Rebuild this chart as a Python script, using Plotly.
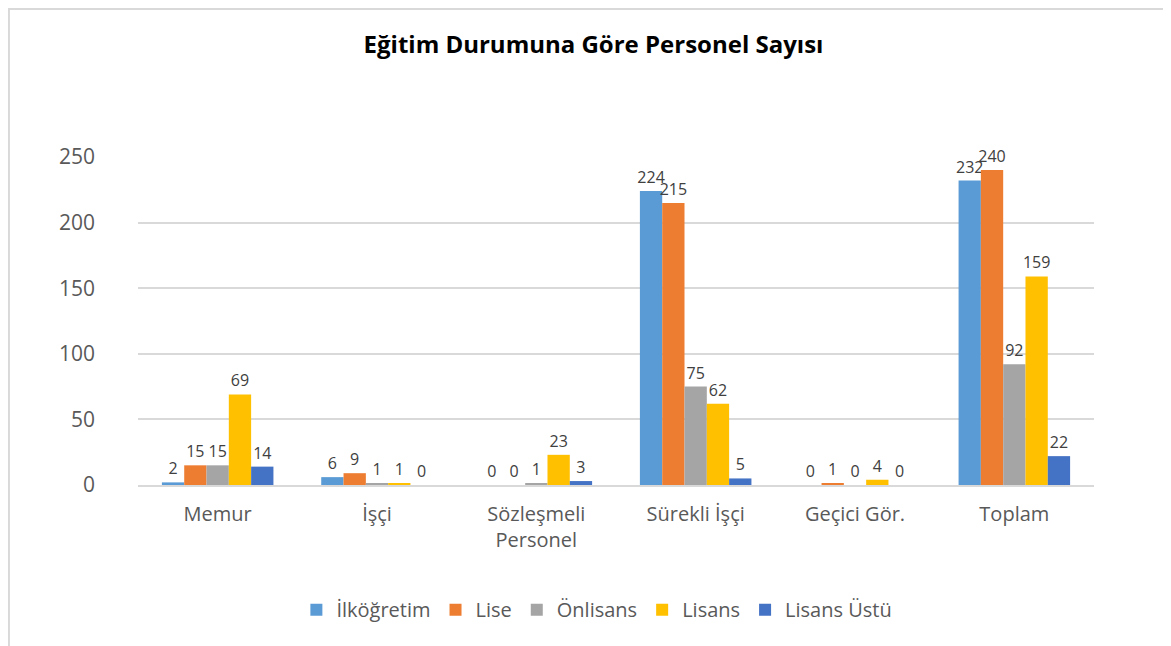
import plotly.graph_objects as go

categories = ["Memur", "İşçi", "Sözleşmeli<br>Personel", "Sürekli İşçi", "Geçici Gör.", "Toplam"]
series_names = ["İlköğretim", "Lise", "Önlisans", "Lisans", "Lisans Üstü"]
ilkogretim = [2, 6, 0, 224, 0, 232]
lise = [15, 9, 0, 215, 1, 240]
onlisans = [15, 1, 1, 75, 0, 92]
lisans = [69, 1, 23, 62, 4, 159]
lisans_ustu = [14, 0, 3, 5, 0, 22]
series_values = [ilkogretim, lise, onlisans, lisans, lisans_ustu]
colors = ["#5B9BD5", "#ED7D31", "#A5A5A5", "#FFC000", "#4472C4"]
y_ticks = [0, 50, 100, 150, 200, 250]

FONT = "Open Sans, Noto Sans, sans-serif"

fig = go.Figure()
for name, vals, col in zip(series_names, series_values, colors):
    fig.add_trace(go.Bar(
        name=name, x=categories, y=vals,
        marker=dict(color=col, line=dict(width=0)),
        text=[str(v) for v in vals], textposition="outside",
        constraintext="none",
        textfont=dict(size=16, color="#404040", family=FONT),
        cliponaxis=False,
    ))

fig.update_layout(
    width=1171, height=646,
    paper_bgcolor="white", plot_bgcolor="white",
    barmode="group", bargap=0.3, bargroupgap=0,
    margin=dict(l=130, r=85, t=149, b=169),
    title=dict(text="<b>Eğitim Durumuna Göre Personel Sayısı</b>",
               x=0.5, xanchor="center", y=0.943, yanchor="middle",
               font=dict(size=24, color="#000000", family=FONT)),
    font=dict(family=FONT, color="#595959"),
    legend=dict(orientation="h", x=0.48, xanchor="center", y=-0.38, yanchor="middle",
                font=dict(size=20, color="#595959", family=FONT),
                itemsizing="constant", traceorder="normal", itemwidth=30),
    xaxis=dict(showgrid=False, showline=True, linecolor="#d9d9d9", linewidth=2,
               tickfont=dict(size=20, color="#595959", family=FONT), ticks="",
               ticklabelstandoff=10),
    yaxis=dict(range=[0, 250], tickvals=y_ticks, showgrid=True, gridcolor="#d9d9d9",
               gridwidth=2, zeroline=False, showline=False,
               tickfont=dict(size=21, color="#595959", family=FONT),
               ticklabelstandoff=42),
)
fig.add_shape(type="rect", xref="paper", yref="paper",
              x0=-0.135, x1=1.2, y0=-0.6, y1=1.451,
              line=dict(color="#d9d9d9", width=2), fillcolor="rgba(0,0,0,0)", layer="below")

fig.write_html("out.html")
